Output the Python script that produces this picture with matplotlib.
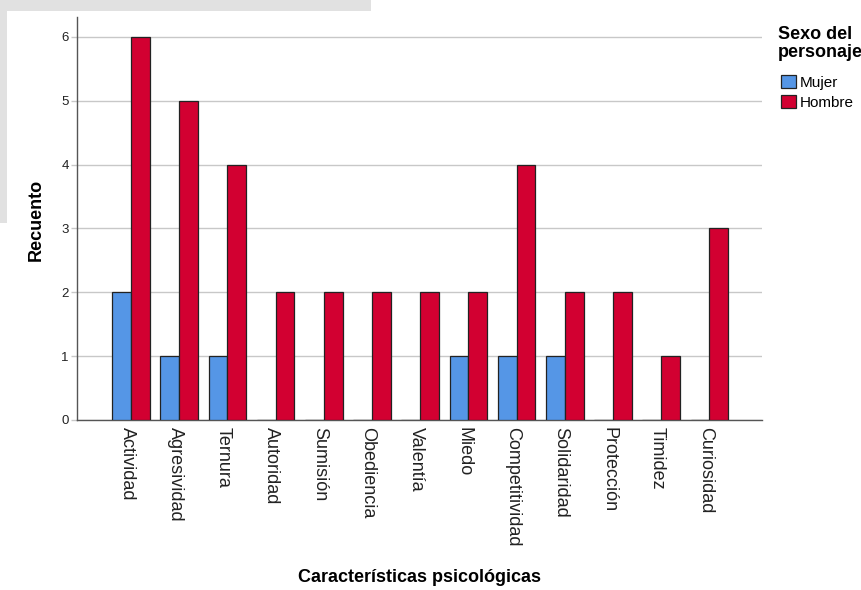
import matplotlib
matplotlib.use("Agg")
import matplotlib.pyplot as plt
import matplotlib.transforms as mtransforms
from matplotlib.patches import Rectangle, Patch
import numpy as np

categorias = ["Actividad", "Agresividad", "Ternura", "Autoridad", "Sumisión",
              "Obediencia", "Valentía", "Miedo", "Competitividad", "Solidaridad",
              "Protección", "Timidez", "Curiosidad"]
mujer = [2, 1, 1, 0, 0, 0, 0, 1, 1, 1, 0, 0, 0]
hombre = [6, 5, 4, 2, 2, 2, 2, 2, 4, 2, 2, 1, 3]
series_labels = ["Mujer", "Hombre"]

plt.rcParams['font.family'] = ['Liberation Sans', 'DejaVu Sans']

W, H = 862, 590
fig = plt.figure(figsize=(W / 100, H / 100), dpi=100)

# gray screenshot border at top-left
gray = "#e1e1e1"
fig.add_artist(Rectangle((0, 1 - 11 / H), 371 / W, 11 / H, transform=fig.transFigure,
                         facecolor=gray, edgecolor="none", zorder=0))
fig.add_artist(Rectangle((0, 1 - 223 / H), 7 / W, 223 / H, transform=fig.transFigure,
                         facecolor=gray, edgecolor="none", zorder=0))

ax = fig.add_axes([77 / W, 1 - 420 / H, (762 - 77) / W, (420 - 17) / H])
ax.patch.set_alpha(0)

x = np.arange(len(categorias))
bw = 0.39
c_m = "#5596e6"
c_h = "#d20031"
ax.bar(x - bw / 2, mujer, bw, color=c_m, edgecolor="#222222", linewidth=0.9, zorder=3)
ax.bar(x + bw / 2, hombre, bw, color=c_h, edgecolor="#222222", linewidth=0.9, zorder=3)

ax.set_xlim(-1.12, 13.09)
ax.set_ylim(0, 6.31)
ax.set_yticks(range(0, 7))
ax.yaxis.grid(True, color="#c8c8c8", linewidth=1.0, zorder=0)
ax.set_axisbelow(True)
ax.set_xticks(x)
ax.set_xticklabels(categorias, rotation=-90, ha="center", va="top", fontsize=13, color="#222222")
ax.tick_params(axis="x", length=0, pad=5)
shift = mtransforms.ScaledTranslation(-4 / 100, 0, fig.dpi_scale_trans)
for lbl in ax.get_xticklabels():
    lbl.set_transform(lbl.get_transform() + shift)
ax.tick_params(axis="y", length=4, width=1, color="#c8c8c8", labelsize=9.5, labelcolor="#222222", pad=2)
for s in ["top", "right"]:
    ax.spines[s].set_visible(False)
for s in ["left", "bottom"]:
    ax.spines[s].set_color("#555555")
    ax.spines[s].set_linewidth(1.0)

ax.set_ylabel("Recuento", fontsize=13, fontweight="bold")
ax.yaxis.set_label_coords(-(77 - 45) / (762 - 77), (420 - 220) / (420 - 17))
fig.text(420 / W, 1 - 578 / H, "Características psicológicas", fontsize=13,
         fontweight="bold", ha="center", va="center")

# legend
fig.text(778 / W, 1 - 26 / H, "Sexo del\npersonaje", fontsize=13, fontweight="bold",
         ha="left", va="top", linespacing=1.05)
handles = [Patch(facecolor=c_m, edgecolor="#222222", linewidth=0.9),
           Patch(facecolor=c_h, edgecolor="#222222", linewidth=0.9)]
fig.legend(handles, series_labels, loc="upper left", bbox_to_anchor=(778 / W, 1 - 72 / H),
           frameon=False, fontsize=11, handlelength=1.0, handleheight=0.9, handletextpad=0.2,
           labelspacing=0.35, borderaxespad=0, borderpad=0.2)

fig.savefig("out.png", dpi=100)
